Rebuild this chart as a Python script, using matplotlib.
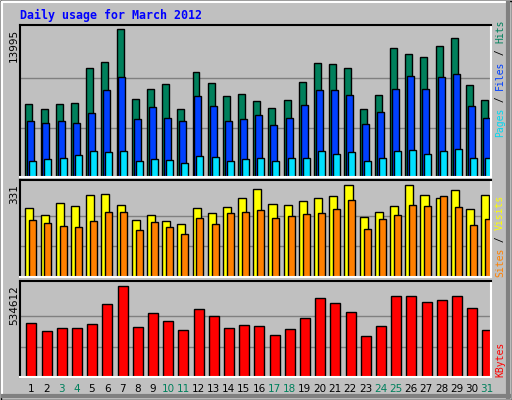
import matplotlib.pyplot as plt
import numpy as np

days = list(range(1, 32))
weekend = [3, 4, 10, 11, 17, 18, 24, 25, 31]

hits = [6903, 6430, 6903, 6997, 10307, 10874, 13995, 7376, 8321, 8794, 6430,
        9929, 8889, 7659, 7848, 7187, 6525, 7281, 8983, 10780, 10685, 10307,
        6430, 7754, 12198, 11631, 11347, 12387, 13144, 8700, 7281]
files = [5295, 5106, 5295, 5106, 6052, 8227, 9456, 5484, 6619, 5579, 5295,
         7659, 6714, 5295, 5484, 5863, 4917, 5579, 6808, 8227, 8227, 7754,
         5012, 6146, 8321, 9551, 8321, 9456, 9740, 6714, 5579]
pages = [1513, 1702, 1797, 2080, 2459, 2364, 2459, 1513, 1702, 1608, 1324,
         1986, 1891, 1513, 1702, 1797, 1513, 1797, 1797, 2459, 2175, 2364,
         1513, 1797, 2459, 2553, 2175, 2459, 2648, 1797, 1797]
visits = [248, 223, 266, 255, 295, 299, 259, 205, 223, 201, 191, 248, 230, 252,
          284, 317, 263, 259, 273, 284, 291, 331, 216, 234, 255, 331, 295, 284,
          313, 245, 295]
sites = [205, 194, 183, 180, 201, 234, 234, 169, 198, 180, 155, 212, 191, 230,
         234, 241, 212, 219, 227, 230, 245, 277, 173, 209, 223, 259, 255, 291,
         252, 187, 209]
kbytes = [317245, 270245, 287870, 287870, 311370, 428868, 534612, 293745,
          375994, 328994, 276120, 399493, 358369, 287870, 305495, 299620,
          246746, 281995, 346619, 464117, 434743, 381869, 240871, 299620,
          475867, 475867, 440618, 452367, 475867, 405368, 276120]

BG = '#C0C0C0'
W, H = 512, 400
fig = plt.figure(figsize=(W / 100, H / 100), dpi=100, facecolor=BG)

def px_axes(x0, y0, x1, y1):
    return fig.add_axes([x0 / W, 1 - y1 / H, (x1 - x0) / W, (y1 - y0) / H])

# frame / bevel
ov = fig.add_axes([0, 0, 1, 1], zorder=-5)
ov.set_xlim(0, W); ov.set_ylim(H, 0); ov.axis('off')
ov.plot([0.5, W - 0.5, W - 0.5, 0.5, 0.5], [0.5, 0.5, H - 0.5, H - 0.5, 0.5], color='black', lw=1)
ov.plot([2, W - 3], [2, 2], color='white', lw=1.5)
ov.plot([2, 2], [2, H - 3], color='white', lw=1.5)
ov.plot([W - 4, W - 4], [3, H - 3], color='#808080', lw=3)
ov.plot([3, W - 3], [H - 4, H - 4], color='#808080', lw=3)

x = np.arange(31)
xlim = (-0.35, 30.64)
panels = [(25, 177, max(hits)), (180, 277, max(sites + visits)), (281, 377, max(kbytes))]
maxh = [148, 92, 91]

axes = []
for (y0, y1, m), mh in zip(panels, maxh):
    ax = px_axes(20, y0, 491, y1)
    ax.set_facecolor(BG)
    ax.set_xlim(*xlim)
    top = m * (y1 - y0) / mh
    ax.set_ylim(0, top)
    for f in (1 / 3, 2 / 3):
        ax.axhline(m * f, color='#808080', lw=1, zorder=0)
    ax.set_xticks([]); ax.set_yticks([])
    ax.spines['top'].set_color('black'); ax.spines['left'].set_color('black')
    ax.spines['bottom'].set_color('white'); ax.spines['right'].set_color('white')
    for s in ax.spines.values():
        s.set_linewidth(1.5)
    fig.text(14 / W, 1 - (y0 + 4) / H, str(m), rotation=90,
             ha='center', va='top', fontsize=7.5, color='black')
    axes.append(ax)

kw = dict(align='edge', edgecolor='black', linewidth=1, zorder=2)
axes[0].bar(x, hits, 0.46, color='#00805C', **kw)
axes[0].bar(x + 0.13, files, 0.46, color='#0040FF', **kw)
axes[0].bar(x + 0.26, pages, 0.46, color='#00E0FF', **kw)
axes[1].bar(x, visits, 0.53, color='#FFFF00', **kw)
axes[1].bar(x + 0.26, sites, 0.46, color='#FF8000', **kw)
axes[2].bar(x + 0.07, kbytes, 0.66, color='#FF0000', **kw)

for d in days:
    c = '#00805C' if d in weekend else 'black'
    axes[2].text(d - 1 + 0.38, -0.13, str(d), transform=axes[2].get_xaxis_transform(),
                 ha='center', va='center', fontsize=7.5, color=c)

fig.text(20 / W, 1 - 15 / H, 'Daily usage for March 2012', fontsize=8.4,
         fontweight='bold', family='DejaVu Sans Mono', color='#0000FF', va='center')

def side_label(parts, ybottom):
    y = ybottom
    for txt, col in parts:
        fig.text(500 / W, 1 - y / H, txt, rotation=90, ha='center', va='bottom',
                 fontsize=7, family='DejaVu Sans Mono', color=col)
        y -= len(txt) * 5.85

side_label([('Pages', '#00D8F0'), (' / ', 'black'), ('Files', '#0040FF'),
            (' / ', 'black'), ('Hits', '#00805C')], 137)
side_label([('Sites', '#FF8000'), (' / ', 'black'), ('Visits', '#FFFF00')], 277)
side_label([('KBytes', '#FF0000')], 377)

fig.savefig('out.png', dpi=100, facecolor=BG)
